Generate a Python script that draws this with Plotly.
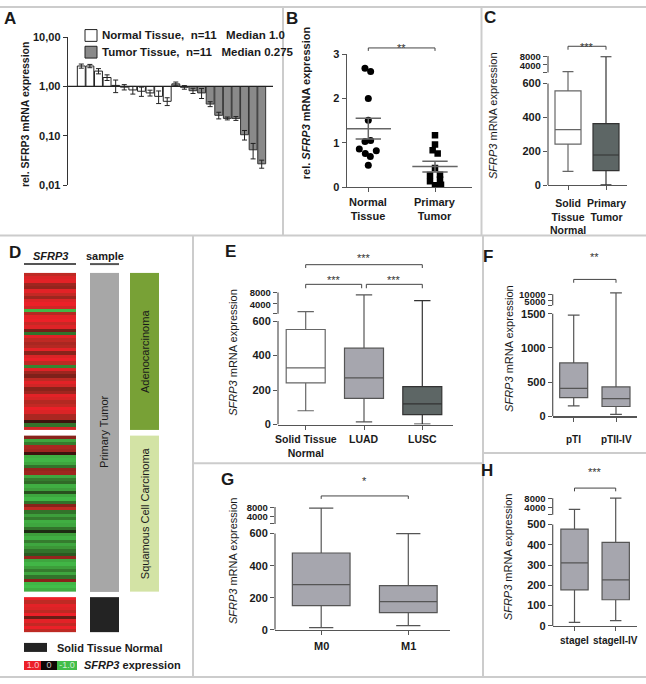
import numpy as np
import plotly.graph_objects as go

W, H = 646, 684
def px(x): return x / W
def py(y): return 1 - y / H

FONT = "Arial, 'Liberation Sans', Helvetica, sans-serif"
AX = "#555555"
TXT = "#1a1a1a"

# ---------------- DATA ----------------
# Panel A (relative SFRP3 expression, log scale, per sample)
a_normal = [2.6, 2.6, 2.05, 1.52, 1.05, 0.97, 0.85, 0.8, 0.74, 0.63, 0.5]
a_normal_err = [0.25, 0.2, 0.25, 0.2, 0.3, 0.12, 0.15, 0.17, 0.1, 0.18, 0.09]
a_tumor = [1.13, 0.96, 0.82, 0.74, 0.44, 0.26, 0.225, 0.225, 0.105, 0.052, 0.027]
a_tumor_err = [0.1, 0.08, 0.1, 0.17, 0.05, 0.04, 0.015, 0.02, 0.023, 0.018, 0.005]
a_ticks = [10, 1, 0.1, 0.01]
a_ticktext = ["10,00", "1,00", "0,10", "0,01"]
a_legend = ["Normal Tissue,\u00a0 n=11\u00a0\u00a0\u00a0Median 1.0",
            "Tumor Tissue,\u00a0 n=11\u00a0\u00a0\u00a0Median 0.275"]

# Panel B (dot plot)
b_groups = ["Normal<br>Tissue", "Primary<br>Tumor"]
b_normal = [2.68, 2.61, 2.0, 1.51, 1.03, 1.05, 0.86, 0.76, 0.82, 0.69, 0.49]
b_tumor = [1.17, 0.96, 0.83, 0.76, 0.43, 0.27, 0.28, 0.13, 0.17, 0.04, 0.05]

# Panel C
c_groups = ["Solid<br>Tissue<br>Normal", "Primary<br>Tumor"]
c_min = [81, 2]
c_q1 = [242, 85]
c_med = [328, 178]
c_q3 = [557, 363]
c_max = [1000, 7700]

# Panel E
e_groups = ["Solid Tissue<br>Normal", "LUAD", "LUSC"]
e_min = [80, 15, 3]
e_q1 = [241, 152, 57]
e_med = [329, 270, 120]
e_q3 = [551, 443, 220]
e_max = [1300, 7200, 5150]

# Panel F
f_groups = ["pTI", "pTII-IV"]
f_min = [154, 29]
f_q1 = [273, 144]
f_med = [408, 259]
f_q3 = [782, 431]
f_max = [1480, 11000]

# Panel G
g_groups = ["M0", "M1"]
g_min = [14, 26]
g_q1 = [151, 108]
g_med = [282, 176]
g_q3 = [479, 276]
g_max = [7550, 600]

# Panel H
h_groups = ["stageI", "stageII-IV"]
h_min = [18, 26]
h_q1 = [178, 129]
h_med = [311, 227]
h_q3 = [477, 411]
h_max = [2980, 8000]

# Panel D heatmap (SFRP3 expression, scaled -1..1)
d_luad = [0.5, 0.8, 0.9, 0.35, 0.3, 0.9, 0.55, 0.35, 0.85, 1.0, 0.7, -0.9,
          0.45, 0.9, 1.0, 0.6, 0.85, 0.15, -0.3, 0.9, 0.5, 0.4, 0.45, 0.9,
          0.25, 0.8, 1.0, 0.5, -0.4, 0.85, 0.35, 0.2, 0.5, 0.9, 0.7, 0.25,
          0.35, 0.9, 0.75, 0.45, 0.55, 1.0, 0.8, 0.4, 0.4, 0.05, -0.3, 0.7]
d_lusc = [0.25, -0.7, -0.35, 0.4, 0.35, 0.05, -0.8, -0.9, -0.7, -0.3, 0.3, 0.35,
          -0.7, -0.35, -0.25, -0.8, -0.6, -0.1, -0.7, -0.9, -0.3, 0.25, 0.5, -0.3,
          -0.6, -0.35, -0.8, -0.7, -0.3, -0.05, -0.6, -0.8, -0.35, -0.7, -0.5, -0.3,
          -0.15, 0.3, -0.7, -0.9, -0.6, -0.35, -0.7, -0.3, 0.25, -0.9, -1.0, -0.8]
d_normal = [1.0, 0.5, 0.9, 0.8, 0.5, 1.0, 0.1, 0.9, 0.55, 1.0, 0.5]
d_key = [1.0, 0.0, -1.0]
d_key_text = ["1.0", "0", "-1.0"]

HEAT_CS = [[0, "rgb(66,190,74)"], [0.25, "rgb(60,150,55)"], [0.45, "rgb(40,80,30)"],
           [0.5, "rgb(15,8,6)"], [0.55, "rgb(105,30,22)"], [0.75, "rgb(190,42,36)"],
           [1, "rgb(236,32,40)"]]

fig = go.Figure()
shapes = []
annotations = []

def txt(x, y, s, size=11, bold=False, angle=0, xanchor="center", color=TXT, yanchor="middle"):
    annotations.append(dict(xref="paper", yref="paper", x=px(x), y=py(y), text=s, showarrow=False,
                            textangle=angle, xanchor=xanchor, yanchor=yanchor,
                            font=dict(family=FONT, size=size, color=color,
                                      weight="bold" if bold else "normal")))

def cat_labels(xa, groups, ypx, size):
    # category labels below an x axis (first line centred at ypx)
    for i, g in enumerate(groups):
        annotations.append(dict(xref=xa, yref="paper", x=i, y=py(ypx - size * 0.62), text=g,
                                showarrow=False, xanchor="center", yanchor="top",
                                font=dict(family=FONT, size=size, color=TXT, weight="bold")))

# ---------------- Panel A ----------------
xa_n = list(range(len(a_normal)))
xa_t = list(range(len(a_normal), len(a_normal) + len(a_tumor)))
A_FILLS = ["white", "#8a8a8a"]
fig.add_trace(go.Bar(
    x=xa_n, y=[v - 1 for v in a_normal], base=1,
    error_y=dict(type="data", array=a_normal_err, color="#222", thickness=1, width=2.5),
    marker=dict(color=A_FILLS[0], line=dict(color="#222", width=1)),
    name=a_legend[0], showlegend=False,
    xaxis="x", yaxis="y", hoverinfo="skip"))
fig.add_trace(go.Bar(
    x=xa_t, y=[v - 1 for v in a_tumor], base=1,
    error_y=dict(type="data", array=a_tumor_err, color="#222", thickness=1, width=2.5),
    marker=dict(color=A_FILLS[1], line=dict(color="#333", width=1)),
    name=a_legend[1], showlegend=False,
    xaxis="x", yaxis="y", hoverinfo="skip"))

slot = (266 - 77) / 22
layout_axes = {}
layout_axes["xaxis"] = dict(domain=[px(68), px(273)],
                            range=[-0.5 - (77 - 68) / slot, 21.5 + (273 - 266) / slot],
                            visible=False, anchor="y")
layout_axes["yaxis"] = dict(domain=[py(182.3), py(31.7)], type="log", range=[-2, 1],
                            anchor="x", showline=True, linecolor="#333", linewidth=1.3,
                            ticks="outside", ticklen=4, tickcolor="#333",
                            tickvals=a_ticks, ticktext=a_ticktext, showgrid=False,
                            zeroline=False,
                            tickfont=dict(family=FONT, size=11, color=TXT, weight="bold"))

# baseline at 1
shapes.append(dict(type="line", xref="x domain", yref="y", x0=0, x1=1, y0=1, y1=1,
                   line=dict(color="#222", width=1.3)))

# legend of panel A (manual)
for i, (ly_, lab) in enumerate(zip([30, 47], a_legend)):
    shapes.append(dict(type="rect", xref="paper", yref="paper", x0=px(85), x1=px(97),
                       y0=py(ly_ + 6), y1=py(ly_ - 6), fillcolor=A_FILLS[i],
                       line=dict(color="#222", width=1)))
    txt(99.5, ly_, lab, 11.5, True, xanchor="left")

# ---------------- Panel B ----------------
b_off_n = [-0.05, 0.035, 0, 0, -0.05, 0.035, -0.135, -0.045, 0.12, 0.03, 0]
b_off_t = [0, 0, -0.035, 0.04, 0, -0.075, 0.075, -0.075, 0.075, 0, 0.09]
fig.add_trace(go.Scatter(x=[0 + o for o in b_off_n], y=b_normal, mode="markers",
                         marker=dict(symbol="circle", size=7, color="black"),
                         xaxis="x2", yaxis="y2", showlegend=False, hoverinfo="skip"))
fig.add_trace(go.Scatter(x=[1 + o for o in b_off_t], y=b_tumor, mode="markers",
                         marker=dict(symbol="square", size=6.5, color="black"),
                         xaxis="x2", yaxis="y2", showlegend=False, hoverinfo="skip"))
lx, ly = [], []
for c, vals in enumerate([b_normal, b_tumor]):
    m = float(np.mean(vals))
    s = float(np.std(vals, ddof=1) / np.sqrt(len(vals)))
    lx += [c - 0.34, c + 0.34, None, c - 0.19, c + 0.19, None, c - 0.19, c + 0.19, None, c, c, None]
    ly += [m, m, None, m + s, m + s, None, m - s, m - s, None, m - s, m + s, None]
fig.add_trace(go.Scatter(x=lx, y=ly, mode="lines", line=dict(color="#666", width=1.5),
                         xaxis="x2", yaxis="y2", showlegend=False, hoverinfo="skip"))
bu = (435 - 368.3)
layout_axes["xaxis2"] = dict(domain=[px(346.7), px(471.7)],
                             range=[-(368.3 - 346.7) / bu, 1 + (471.7 - 435) / bu],
                             anchor="y2", showline=True, linecolor=AX, linewidth=1.2,
                             ticks="outside", ticklen=4, tickcolor=AX,
                             tickvals=[0, 1], showticklabels=False, showgrid=False, zeroline=False)
layout_axes["yaxis2"] = dict(domain=[py(184.3), py(49)], range=[0, 3], anchor="x2",
                             showline=True, linecolor=AX, linewidth=1.2,
                             ticks="outside", ticklen=4, tickcolor=AX,
                             tickvals=[0, 1, 2, 3], showgrid=False, zeroline=False,
                             tickfont=dict(family=FONT, size=11, color=TXT, weight="bold"))
cat_labels("x2", b_groups, 198.3, 11)

def bracket(xa, x0, x1, ypx, ytick, ystar, stars):
    shapes.append(dict(type="path", xref=xa, yref="paper",
                       path=f"M{x0},{py(ytick)} L{x0},{py(ypx)} L{x1},{py(ypx)} L{x1},{py(ytick)}",
                       line=dict(color="#444", width=1)))
    annotations.append(dict(xref=xa, yref="paper", x=(x0 + x1) / 2, y=py(ystar), text=stars,
                            showarrow=False, font=dict(family=FONT, size=11, color="#333")))

bracket("x2", 0, 1, 42.7, 45.7, 34.8, "**")

# ---------------- Broken-axis box panels ----------------
def make_panel(idx, g, groups, mins, q1s, meds, q3s, maxs, fills, lines, brackets, xlab_y, xfont=11):
    def tf(v):
        return v if v <= g["L"] else g["L"] + g["gap"] + (v - g["L"]) * g["k"]
    xa, ya = f"x{idx}", f"y{idx}"
    cats = g["cats"]
    unit = cats[1] - cats[0]
    R = (g["bottom"] - g["top"]) / g["a"]
    for i in range(len(groups)):
        fig.add_trace(go.Box(
            x=[i], q1=[tf(q1s[i])], median=[tf(meds[i])], q3=[tf(q3s[i])],
            lowerfence=[tf(mins[i])], upperfence=[tf(maxs[i])],
            width=g["bw"] / unit, whiskerwidth=0.42, boxpoints=False,
            fillcolor=fills[i], line=dict(color=lines[i], width=1.2),
            xaxis=xa, yaxis=ya, showlegend=False, hoverinfo="skip"))
    layout_axes[f"xaxis{idx}"] = dict(
        domain=[px(g["xdom"][0]), px(g["xdom"][1])],
        range=[-(cats[0] - g["xdom"][0]) / unit, (g["xdom"][1] - cats[0]) / unit],
        anchor=ya, showline=True, linecolor=AX, linewidth=1.2, ticks="outside", ticklen=4,
        tickcolor=AX, tickvals=list(range(len(groups))), showticklabels=False,
        showgrid=False, zeroline=False)
    cat_labels(xa, groups, xlab_y, xfont)
    tv = [tf(v) for v in g["lower"]] + [g["L"] + g["gap"]] + [tf(v) for v in g["upper"]]
    tt = ([str(v) for v in g["lower"]] + [""] +
          [f"<span style='font-size:9.5px'>{v}</span>" for v in g["upper"]])
    layout_axes[f"yaxis{idx}"] = dict(
        domain=[py(g["bottom"]), py(g["top"])], range=[0, R], anchor=xa,
        showline=False, ticks="outside", ticklen=4, tickcolor=AX,
        tickvals=tv, ticktext=tt, showgrid=False, zeroline=False,
        tickfont=dict(family=FONT, size=11, color=TXT, weight="bold"))
    shapes.append(dict(type="line", xref=f"{xa} domain", yref=ya, x0=0, x1=0,
                       y0=0, y1=g["L"], line=dict(color=AX, width=1.2)))
    shapes.append(dict(type="line", xref=f"{xa} domain", yref=ya, x0=0, x1=0,
                       y0=g["L"] + g["gap"], y1=tf(g["upper"][-1]), line=dict(color=AX, width=1.2)))
    for (c0, c1, ypx, ytick, ystar, stars) in brackets:
        bracket(xa, c0, c1, ypx, ytick, ystar, stars)

WHITE, GRAY, DARK = "white", "#a6a6ae", "#5d6665"
make_panel(3, dict(xdom=(548, 627), cats=(568, 606), bottom=182.3, top=28, a=0.1722,
                   L=600, gap=65.8, k=0.01307, lower=[0, 200, 400, 600], upper=[4000, 8000], bw=26),
           c_groups, c_min, c_q1, c_med, c_q3, c_max, [WHITE, DARK], ["#666", "#333"],
           [(0, 1, 41, 44.5, 33.5, "***")], 199, xfont=10.5)
make_panel(5, dict(xdom=(278, 453), cats=(305.7, 364), bottom=426, top=250, a=0.1755,
                   L=600, gap=43, k=0.0165, lower=[0, 200, 400, 600], upper=[4000, 8000], bw=39),
           e_groups, e_min, e_q1, e_med, e_q3, e_max, [WHITE, GRAY, DARK], ["#666", "#555", "#333"],
           [(0, 2, 263.3, 266.7, 256.8, "***"), (0, 0.96, 283.3, 287.3, 279, "***"),
            (1.04, 2, 283.3, 287.3, 279, "***")], 439.5, xfont=10.5)
make_panel(6, dict(xdom=(552.7, 637), cats=(573.7, 616), bottom=417.7, top=250, a=0.0696,
                   L=1500, gap=124, k=0.0192, lower=[0, 500, 1000, 1500], upper=[5000, 10000], bw=28),
           f_groups, f_min, f_q1, f_med, f_q3, f_max, [GRAY, GRAY], ["#555", "#555"],
           [(0, 1, 278.3, 281.7, 255.5, "**")], 440, xfont=10)
make_panel(7, dict(xdom=(275, 450), cats=(321.2, 408.3), bottom=635, top=485, a=0.1633,
                   L=600, gap=60, k=0.01425, lower=[0, 200, 400, 600], upper=[4000, 8000], bw=57.7),
           g_groups, g_min, g_q1, g_med, g_q3, g_max, [GRAY, GRAY], ["#555", "#555"],
           [(0, 1, 498.7, 501.7, 492, "*")], 650, xfont=11)
make_panel(8, dict(xdom=(552.7, 637), cats=(574.5, 615.7), bottom=631, top=475, a=0.2067,
                   L=500, gap=47.3, k=0.0109, lower=[0, 100, 200, 300, 400, 500], upper=[4000, 8000], bw=27.3),
           h_groups, h_min, h_q1, h_med, h_q3, h_max, [GRAY, GRAY], ["#555", "#555"],
           [(0, 1, 490.7, 494, 482.5, "***")], 644, xfont=10)

# ---------------- Panel D (heatmap) ----------------
def rows_edges(y0, y1, n):
    return list(np.linspace(y0, y1, n + 1))

for vals, (y0, y1) in [(d_luad, (271.7, 431.7)), (d_lusc, (437.3, 596)), (d_normal, (601.7, 637.3))]:
    fig.add_trace(go.Heatmap(x=[24, 76], y=rows_edges(y0, y1, len(vals)), z=[[v] for v in vals],
                             colorscale=HEAT_CS, zmin=-1, zmax=1, showscale=False,
                             xaxis="x4", yaxis="y4", hoverinfo="skip"))
# annotation tracks
for (x0, x1, y0, y1, col) in [(90, 119, 271.7, 596, "#a7a7a7"), (90, 119, 601.7, 637.3, "#232323"),
                              (130, 159, 271.7, 431.7, "#78a136"), (130, 159, 437.3, 596, "#d3e3a5"),
                              (24, 47, 648.3, 657.3, "#232323")]:
    fig.add_trace(go.Heatmap(x=[x0, x1], y=[y0, y1], z=[[1]], colorscale=[[0, col], [1, col]],
                             showscale=False, xaxis="x4", yaxis="y4", hoverinfo="skip"))
# color key
fig.add_trace(go.Heatmap(x=[24, 41, 57, 77], y=[666.7, 675.7], z=[d_key], text=[d_key_text],
                         texttemplate="%{text}", textfont=dict(family=FONT, size=9, color="rgba(255,255,255,0.75)"),
                         colorscale=HEAT_CS, zmin=-1, zmax=1, showscale=False,
                         xaxis="x4", yaxis="y4", hoverinfo="skip"))
layout_axes["xaxis4"] = dict(domain=[0, px(193)], range=[0, 193], visible=False, anchor="y4")
layout_axes["yaxis4"] = dict(domain=[0, 1], range=[684, 0], visible=False, anchor="x4")

# underlines
for (x0, x1) in [(24, 76), (90, 119)]:
    shapes.append(dict(type="line", xref="paper", yref="paper", x0=px(x0), x1=px(x1),
                       y0=py(262.7), y1=py(262.7), line=dict(color="#555", width=2)))

txt(50, 254, "<i>SFRP3</i>", 11, True)
txt(104.5, 254, "sample", 11, True)
txt(104.5, 434, "Primary Tumor", 11, False, -90)
txt(144.5, 351.7, "Adenocarcinoma", 11, False, -90)
txt(144.5, 516.7, "Squamous Cell Carcinoma", 11, False, -90)
txt(55, 653, "Solid Tissue Normal", 11, True, xanchor="left")
txt(82, 671, "<i>SFRP3</i> expression", 11, True, xanchor="left")

# panel letters
for (x, y, s) in [(10, 13, "A"), (292, 13, "B"), (490, 12, "C"), (15, 251, "D"),
                  (230, 250, "E"), (488, 255, "F"), (227, 482, "G"), (487, 473, "H")]:
    txt(x, y, s, 17, True)

# y titles
txt(25, 110, "rel. SFRP3 mRNA expression", 10.5, True, -90)
txt(306, 99, "rel. <i>SFRP3</i> mRNA expression", 11, True, -90)
txt(493, 112, "<i>SFRP3</i> mRNA expression", 11, False, -90)
txt(233, 353, "<i>SFRP3</i> mRNA expression", 11, False, -90)
txt(509, 349, "<i>SFRP3</i> mRNA expression", 11, False, -90)
txt(233, 565, "<i>SFRP3</i> mRNA expression", 11, False, -90)
txt(508, 561, "<i>SFRP3</i> mRNA expression", 11, False, -90)

# panel dividers
DIV = "#cccccc"
for (x0, y0, x1, y1) in [(0, 1, 646, 1), (0, 233.5, 646, 233.5), (283, 0, 283, 233.5),
                         (481.5, 0, 481.5, 233.5), (193, 233.5, 193, 684), (483, 233.5, 483, 684),
                         (193, 465.5, 483, 465.5), (483, 455, 646, 455), (0, 683, 646, 683)]:
    shapes.append(dict(type="line", xref="paper", yref="paper", x0=px(x0), x1=px(x1),
                       y0=py(y0), y1=py(y1), line=dict(color=DIV, width=2)))

fig.update_layout(
    width=W, height=H, margin=dict(l=0, r=0, t=0, b=0),
    paper_bgcolor="white", plot_bgcolor="rgba(0,0,0,0)",
    barmode="overlay", bargap=0.08,
    showlegend=False,
    shapes=shapes, annotations=annotations,
    font=dict(family=FONT),
    **layout_axes,
)
fig.write_html("out.html", config={"displayModeBar": False, "staticPlot": True},
               post_script="document.body.style.margin='0';document.body.style.overflow='hidden';")
